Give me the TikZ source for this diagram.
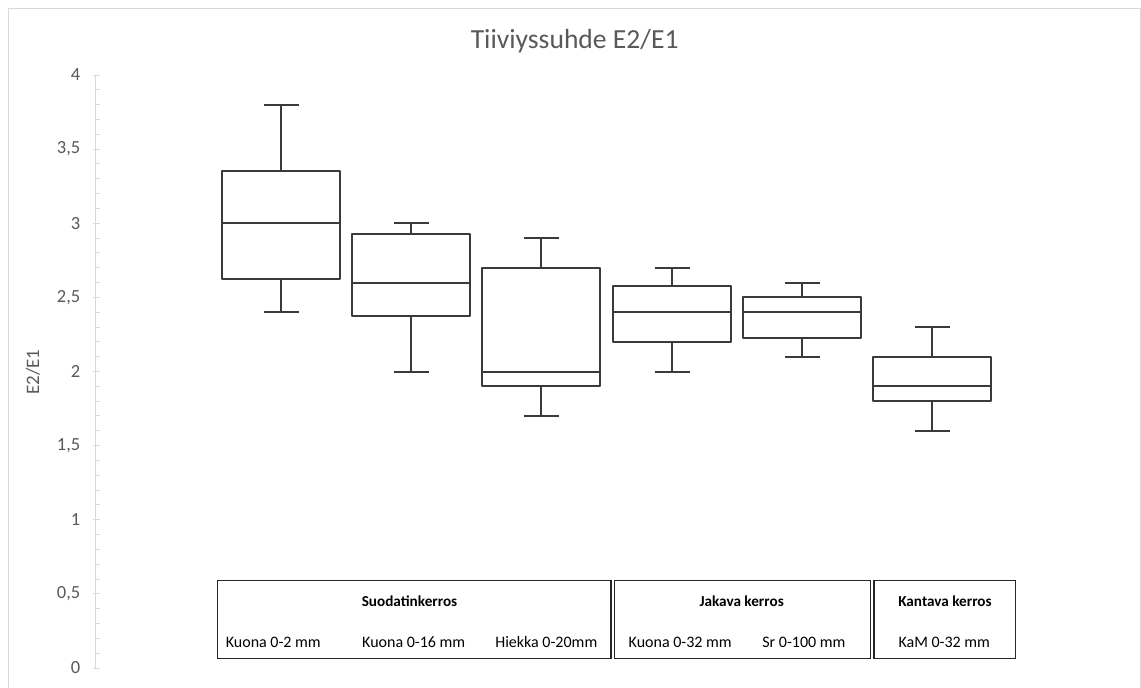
\documentclass[tikz,border=0pt]{standalone}
\usepackage{fontspec}
\setmainfont{Carlito}
\definecolor{axisgray}{HTML}{D9D9D9}
\definecolor{labelgray}{HTML}{595959}
\definecolor{boxink}{HTML}{3A3A3A}
\begin{document}
\begin{tikzpicture}[x=1pt,y=-1pt,
  frameline/.style={draw=axisgray,line width=1pt},
  axisline/.style={draw=axisgray,line width=1pt},
  boxline/.style={draw=boxink,line width=1.8pt,line join=round},
  tableframe/.style={draw=black!85,line width=1.3pt},
  ticklabel/.style={text=labelgray,font=\fontsize{18.5}{20}\selectfont,inner sep=0pt,anchor=east},
  titletext/.style={text=labelgray,font=\fontsize{27.6}{32}\selectfont,inner sep=0pt,anchor=base},
  axistitle/.style={text=labelgray,font=\fontsize{19}{20}\selectfont,inner sep=0pt,rotate=90},
  grouptext/.style={font=\bfseries\fontsize{15.2}{17}\selectfont,inner sep=0pt,anchor=base},
  itemtext/.style={font=\fontsize{16}{18}\selectfont,inner sep=0pt,anchor=base}]
\useasboundingbox (0,0) rectangle (1141,688);

% chart frame
\draw[frameline] (8.5,700) -- (8.5,8.5) -- (1140,8.5) -- (1140,700);

% title
\node[titletext] (title) at (574.7,48.3) {Tiiviyssuhde E2/E1};

% value axis
\draw[axisline] (95,75) -- (95,668);
\foreach \k in {0,...,40} {
  \draw[axisline] (95,{668-14.825*\k}) -- (99.5,{668-14.825*\k});
}
\foreach \k in {0,...,8} {
  \draw[axisline] (93,{668-74.125*\k}) -- (99.5,{668-74.125*\k});
}
\foreach \v/\t in {0/0,0.5/{0,5},1/1,1.5/{1,5},2/2,2.5/{2,5},3/3,3.5/{3,5},4/4} {
  \node[ticklabel] (tick-\v) at (80.5,{668-148.25*\v}) {\t};
}
\node[axistitle] (ytitle) at (33,372) {E2/E1};

% box plots: centre / min / Q1 / median / Q3 / max (values snapped to whole pixels)
\foreach \cx/\lo/\qa/\md/\qb/\hi in {
    281/2.4/2.625/3/3.35/3.8,
    411/2/2.375/2.6/2.925/3,
    541/1.7/1.9/2/2.7/2.9,
    672/2/2.2/2.4/2.575/2.7,
    802/2.1/2.225/2.4/2.5/2.6,
    932/1.6/1.8/1.9/2.1/2.3} {
  \pgfmathsetmacro{\ylo}{round(668-148.25*\lo)}
  \pgfmathsetmacro{\yqa}{round(668-148.25*\qa)}
  \pgfmathsetmacro{\ymd}{round(668-148.25*\md)}
  \pgfmathsetmacro{\yqb}{round(668-148.25*\qb)}
  \pgfmathsetmacro{\yhi}{round(668-148.25*\hi)}
  \draw[boxline] ({\cx-59},\yqa) rectangle ({\cx+59},\yqb);
  \draw[boxline] ({\cx-59},\ymd) -- ({\cx+59},\ymd);
  \draw[boxline] (\cx,\yqb) -- (\cx,\yhi);
  \draw[boxline] (\cx,\yqa) -- (\cx,\ylo);
  \draw[boxline] ({\cx-17.5},\yhi) -- ({\cx+17.5},\yhi);
  \draw[boxline] ({\cx-17.5},\ylo) -- ({\cx+17.5},\ylo);
}

% layer table
\draw[tableframe] (217.3,580.3) rectangle (611,658.3);
\draw[tableframe] (614.3,580.3) rectangle (870.7,658.3);
\draw[tableframe] (874,580.3) rectangle (1015.7,658.3);

\node[grouptext] (g1) at (409.5,606) {Suodatinkerros};
\node[grouptext] (g2) at (741.7,606) {Jakava kerros};
\node[grouptext] (g3) at (945,606) {Kantava kerros};

\node[itemtext] (i1) at (273.3,647) {Kuona 0-2 mm};
\node[itemtext] (i2) at (413.7,647) {Kuona 0-16 mm};
\node[itemtext] (i3) at (546.3,647) {Hiekka 0-20mm};
\node[itemtext] (i4) at (680.2,647) {Kuona 0-32 mm};
\node[itemtext] (i5) at (803.9,647) {Sr 0-100 mm};
\node[itemtext] (i6) at (944.3,647) {KaM 0-32 mm};
\end{tikzpicture}
\end{document}
